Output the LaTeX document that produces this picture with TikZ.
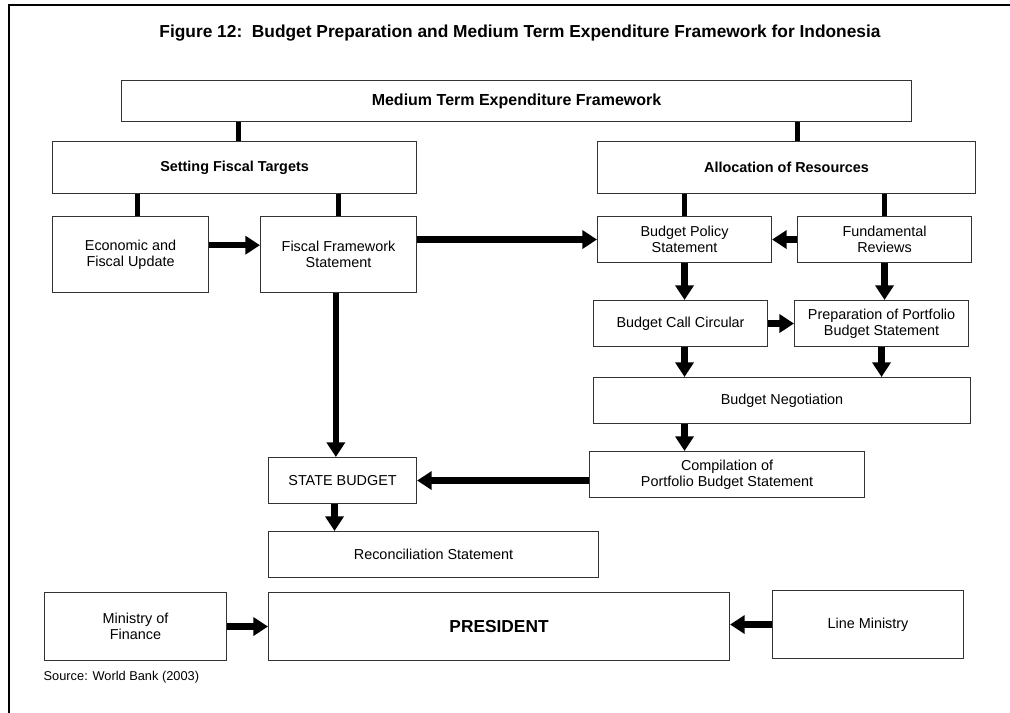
\documentclass[tikz,border=0pt]{standalone}
\usepackage{fontspec}
\setmainfont{Liberation Sans}
\usetikzlibrary{arrows.meta}

\begin{document}
\begin{tikzpicture}[x=0.75pt,y=-0.75pt,
    >={Triangle[length=11pt,width=13.5pt]},
    blk/.style={draw=black!80,line width=0.8pt,anchor=north west,align=center,inner sep=2pt,
      font=\fontsize{10.8}{12}\selectfont},
    conn/.style={line width=3.6pt},
    flow/.style={->,line width=4.6pt}]
  \useasboundingbox (0,0) rectangle (1010,713);
  % frame
  \draw[line width=1.6pt] (9,713) -- (9,5) -- (1010,5);
  \node[font=\fontsize{13}{15}\selectfont\bfseries] (title) at (520,33)
     {Figure 12:\ \ Budget Preparation and Medium Term Expenditure Framework for Indonesia};

  % top levels
  \node[blk,minimum width=592.5pt,minimum height=30.75pt,font=\fontsize{12}{14}\selectfont\bfseries] (mtef) at (121,80)
     {Medium Term Expenditure Framework};
  \node[blk,minimum width=273pt,minimum height=39pt,font=\fontsize{10.8}{12}\selectfont\bfseries] (sft) at (52,141)
     {Setting Fiscal Targets};
  \node[blk,minimum width=283.5pt,minimum height=39pt,font=\fontsize{10.8}{12}\selectfont\bfseries] (alloc) at (597,141)
     {Allocation of Resources};

  % fiscal side
  \node[blk,minimum width=117pt,minimum height=57pt] (efu) at (52,216) {Economic and\\Fiscal Update};
  \node[blk,minimum width=117pt,minimum height=57pt] (ffs) at (260,216) {Fiscal Framework\\Statement};

  % resource side
  \node[blk,minimum width=130.5pt,minimum height=34.5pt] (bps) at (597,216) {Budget Policy\\Statement};
  \node[blk,minimum width=130.5pt,minimum height=34.5pt] (fr) at (797,216) {Fundamental\\Reviews};
  \node[blk,minimum width=130.5pt,minimum height=34.5pt] (bcc) at (593,300) {Budget Call Circular};
  \node[blk,minimum width=130.5pt,minimum height=34.5pt] (ppbs) at (794,300) {Preparation of Portfolio\\Budget Statement};
  \node[blk,minimum width=282.75pt,minimum height=34.5pt] (bn) at (593,377) {Budget Negotiation};
  \node[blk,minimum width=206.25pt,minimum height=34.5pt] (comp) at (589,451) {Compilation of\\Portfolio Budget Statement};

  \node[blk,minimum width=111pt,minimum height=34.5pt] (sb) at (268,457) {STATE BUDGET};
  \node[blk,minimum width=247.5pt,minimum height=34.5pt] (rec) at (268,531) {Reconciliation Statement};

  % bottom row
  \node[blk,minimum width=136.5pt,minimum height=51pt] (mof) at (44,592) {Ministry of\\Finance};
  \node[blk,minimum width=345.75pt,minimum height=51pt,font=\fontsize{13}{15}\selectfont\bfseries] (pres) at (268,592) {PRESIDENT};
  \node[blk,minimum width=143.25pt,minimum height=51pt] (lm) at (772,590) {Line Ministry};

  \node[anchor=west,font=\fontsize{9.6}{11}\selectfont] (src) at (39,677) {Source: World Bank (2003)};

  % plain links
  \draw[conn] ([xshift=3pt]sft.north) -- ([xshift=3pt]sft.north |- mtef.south);
  \draw[conn] ([xshift=8pt]alloc.north) -- ([xshift=8pt]alloc.north |- mtef.south);
  \draw[conn] ([xshift=5pt]efu.north) -- ([xshift=5pt]efu.north |- sft.south);
  \draw[conn] (ffs.north) -- (ffs.north |- sft.south);
  \draw[conn] (bps.north) -- (bps.north |- alloc.south);
  \draw[conn] (fr.north) -- (fr.north |- alloc.south);

  % arrows
  \draw[flow] ([yshift=7pt]efu.east) -- ([yshift=7pt]efu.east -| ffs.west);
  \draw[flow] (ffs.east |- bps.west) -- (bps.west);
  \draw[flow] (fr.west) -- (bps.east);
  \draw[flow] (bps.south) -- (bps.south |- bcc.north);
  \draw[flow] (fr.south) -- (fr.south |- ppbs.north);
  \draw[flow] (bcc.east) -- (ppbs.west);
  \draw[flow] (bps.south |- bcc.south) -- (bps.south |- bn.north);
  \draw[flow] (ppbs.south) -- (ppbs.south |- bn.north);
  \draw[flow] (bps.south |- bn.south) -- (bps.south |- comp.north);
  \draw[flow] (comp.west |- sb.east) -- (sb.east);
  \draw[flow] ([xshift=-2pt]ffs.south) -- ([xshift=-2pt]ffs.south |- sb.north);
  \draw[flow] ([xshift=-6pt]sb.south) -- ([xshift=-6pt]sb.south |- rec.north);
  \draw[flow] (mof.east) -- (mof.east -| pres.west);
  \draw[flow] (lm.west) -- (lm.west -| pres.east);
\end{tikzpicture}
\end{document}
